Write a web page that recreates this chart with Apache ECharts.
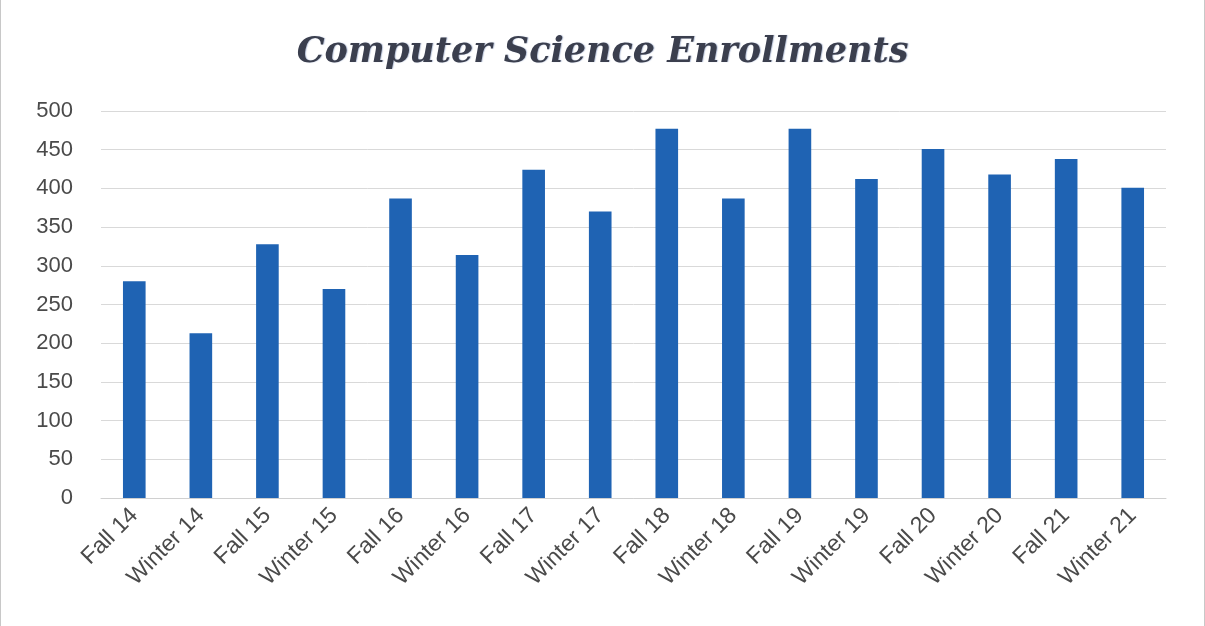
<!DOCTYPE html>
<html>
<head>
<meta charset="utf-8">
<script src="https://cdn.jsdelivr.net/npm/echarts@6/dist/echarts.min.js"></script>
<style>
  html, body { margin: 0; padding: 0; background: #fff; }
  #main { width: 1205px; height: 626px; box-sizing: border-box; border-left: 1px solid #c8c8c8; border-right: 1px solid #c8c8c8; }
</style>
</head>
<body>
<div id="main"></div>
<script>
// terms on the x axis
var terms = ["Fall 14", "Winter 14", "Fall 15", "Winter 15", "Fall 16", "Winter 16",
  "Fall 17", "Winter 17", "Fall 18", "Winter 18", "Fall 19", "Winter 19",
  "Fall 20", "Winter 20", "Fall 21", "Winter 21"];
// enrollments
var enrollments = [280, 213, 328, 270, 387, 314, 424, 370, 477, 387, 477, 412, 451, 418, 438, 401];
var yMin = 0, yMax = 500, yStep = 50;

var chart = echarts.init(document.getElementById("main"));
chart.setOption({
  animation: false,
  title: {
    text: "Computer Science Enrollments",
    left: "center",
    top: 30,
    textStyle: {
      fontFamily: "DejaVu Serif",
      fontStyle: "italic",
      fontWeight: "bold",
      fontSize: 35,
      color: "#3b3f4e",
      textShadowColor: "rgba(60,90,150,0.35)",
      textShadowBlur: 1,
      textShadowOffsetX: 1
    }
  },
  grid: { left: 100, right: 38, top: 111, bottom: 128 },
  xAxis: {
    type: "category",
    data: terms,
    axisTick: { show: false },
    axisLine: { lineStyle: { color: "#d0d0d0" } },
    axisLabel: {
      rotate: 45,
      interval: 0,
      margin: 14,
      fontFamily: "Liberation Sans",
      fontSize: 23,
      color: "#4a4a4a"
    }
  },
  yAxis: {
    type: "value",
    min: yMin,
    max: yMax,
    interval: yStep,
    axisLine: { show: false },
    axisTick: { show: false },
    splitLine: { lineStyle: { color: "#d9d9d9" } },
    axisLabel: {
      margin: 28,
      fontFamily: "Liberation Sans",
      fontSize: 22,
      color: "#4a4a4a"
    }
  },
  series: [{
    type: "bar",
    data: enrollments,
    barWidth: "34%",
    itemStyle: { color: "#1f63b3" }
  }]
});
</script>
</body>
</html>
